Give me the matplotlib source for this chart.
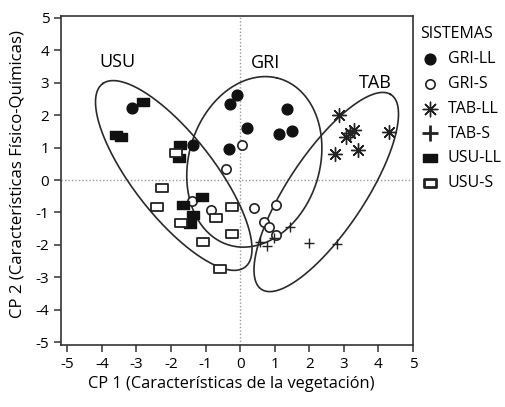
import matplotlib
matplotlib.use("Agg")
import matplotlib.pyplot as plt
import numpy as np
from matplotlib.path import Path

plt.rcParams['font.family'] = ['Open Sans', 'DejaVu Sans']
plt.rcParams['axes.unicode_minus'] = False

# Datos (CP1, CP2)
gri_ll_x = [-3.14, -1.35, -0.09, -0.28, 1.35, 0.21, 1.11, 1.51, -0.32]
gri_ll_y = [2.23, 1.07, 2.62, 2.34, 2.18, 1.60, 1.42, 1.51, 0.97]
gri_s_x = [0.06, -0.42, -1.38, -0.85, 0.39, 1.03, 0.68, 0.84, 1.03]
gri_s_y = [1.08, 0.35, -0.64, -0.93, -0.87, -0.77, -1.31, -1.46, -1.70]
tab_ll_x = [2.85, 3.19, 3.07, 3.28, 3.40, 2.75, 4.30]
tab_ll_y = [2.01, 1.44, 1.32, 1.54, 0.93, 0.80, 1.47]
tab_s_x = [1.45, 0.58, 0.79, 0.97, 1.98, 2.80]
tab_s_y = [-1.44, -1.90, -2.03, -1.80, -1.94, -1.98]
usu_ll_x = [-3.59, -3.45, -2.80, -1.74, -1.76, -1.11, -1.64, -1.35, -1.45]
usu_ll_y = [1.39, 1.33, 2.40, 1.08, 0.67, -0.52, -0.77, -1.08, -1.37]
usu_s_x = [-1.86, -2.27, -2.41, -1.72, -0.70, -0.24, -0.24, -1.06, -0.58]
usu_s_y = [0.82, -0.26, -0.84, -1.32, -1.18, -0.84, -1.65, -1.90, -2.73]

# Elipses de agrupacion: centro, semiejes, angulo (grados)
ell_names = ['USU', 'GRI', 'TAB']
ell_cx = [-1.92, 0.41, 2.49]
ell_cy = [0.14, 0.56, -0.37]
ell_a = [3.50, 2.67, 3.54]
ell_b = [1.20, 1.90, 1.13]
ell_ang = [125.7, 75.9, 58.4]
lab_x = [-3.54, 0.72, 3.91]
lab_y = [3.64, 3.61, 2.99]

rect = Path([(-1, -0.62), (1, -0.62), (1, 0.62), (-1, 0.62), (-1, -0.62)], closed=True)

fig = plt.figure(figsize=(5.06, 4.07), dpi=100)
ax = fig.add_axes([0.1206, 0.1523, 0.6957, 0.8084])

ax.axhline(0, color='#999999', linestyle=(0, (1, 1.5)), linewidth=1)
ax.axvline(0, color='#999999', linestyle=(0, (1, 1.5)), linewidth=1)

t = np.linspace(0, 2*np.pi, 300)
for i in range(len(ell_names)):
    th = np.deg2rad(ell_ang[i])
    ex = ell_cx[i] + ell_a[i]*np.cos(t)*np.cos(th) - ell_b[i]*np.sin(t)*np.sin(th)
    ey = ell_cy[i] + ell_a[i]*np.cos(t)*np.sin(th) + ell_b[i]*np.sin(t)*np.cos(th)
    ax.plot(ex, ey, color='#2a2a2a', linewidth=1.2)
    ax.text(lab_x[i], lab_y[i], ell_names[i], fontsize=13, ha='center', va='center')

ax.scatter(gri_ll_x, gri_ll_y, s=60, marker='o', color='#111111', label='GRI-LL', zorder=3)
ax.scatter(gri_s_x, gri_s_y, s=45, marker='o', facecolor='white', edgecolor='#222222',
           linewidths=1.2, label='GRI-S', zorder=3)
ax.scatter(tab_ll_x, tab_ll_y, s=100, marker=(8, 2, 0), color='#222222', linewidths=1.0,
           label='TAB-LL', zorder=3)
ax.scatter(tab_s_x, tab_s_y, s=50, marker='+', color='#222222', linewidths=1.0,
           label='TAB-S', zorder=3)
ax.scatter(usu_ll_x, usu_ll_y, s=70, marker=rect, color='#111111', label='USU-LL', zorder=3)
ax.scatter(usu_s_x, usu_s_y, s=70, marker=rect, facecolor='white', edgecolor='#222222',
           linewidths=1.3, label='USU-S', zorder=3)

ax.set_xlim(-5.18, 5.0)
ax.set_ylim(-5.09, 5.06)
ax.set_xticks(range(-5, 6))
ax.set_yticks(range(-5, 6))
ax.tick_params(direction='out', length=5, width=1.1, labelsize=11, color='#333333')
for sp in ax.spines.values():
    sp.set_linewidth(1.2)
    sp.set_color('#333333')

ax.set_xlabel('CP 1 (Características de la vegetación)', fontsize=11.8)
ax.set_ylabel('CP 2 (Características Físico-Químicas)', fontsize=12.1)
ax.xaxis.set_label_coords(0.483, -0.095)
ax.yaxis.set_label_coords(-0.10, 0.52)

leg = ax.legend(title='SISTEMAS', loc='upper left', bbox_to_anchor=(0.83, 0.935),
                bbox_transform=fig.transFigure, frameon=False, fontsize=11.5,
                title_fontsize=11.5, handletextpad=0.55, labelspacing=0.55,
                handlelength=1.2, borderaxespad=0, borderpad=0)
leg._legend_box.align = 'left'
hs = leg.legend_handles
hs[2].set_sizes([110])
hs[3].set_sizes([140])
hs[3].set_linewidths([2.0])
hs[4].set_sizes([90])
hs[5].set_sizes([80])
hs[5].set_linewidths([2.0])

fig.savefig('out.png', dpi=100)
